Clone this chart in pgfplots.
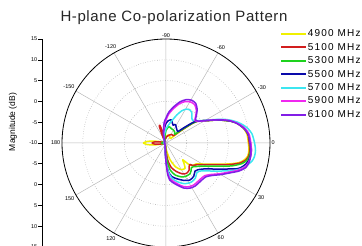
\documentclass[border=0pt]{standalone}
\usepackage{fontspec}
\setmainfont{Liberation Sans}
\newfontfamily\legfont[LetterSpace=12]{Liberation Sans}
\newfontfamily\titlefont[LetterSpace=4]{Liberation Sans}
\usepackage{pgfplots}
\pgfplotsset{compat=1.18}
\usepgfplotslibrary{polar}
\usepackage{pgfplotstable}

\definecolor{cY}{RGB}{240,240,0}
\definecolor{cR}{RGB}{210,30,30}
\definecolor{cG}{RGB}{30,210,30}
\definecolor{cB}{RGB}{10,10,170}
\definecolor{cC}{RGB}{60,230,240}
\definecolor{cM}{RGB}{240,40,240}
\definecolor{cP}{RGB}{130,30,230}

% angle (deg, clockwise from right as labelled) and magnitude (dB)
\pgfplotstableread{
a d
-180 -4.5
-175 -5.5
-170 -7.5
-165 -9.0
-150 -9.6
-120 -9.5
-100 -9.0
-90 -8.5
-75 -8.0
-60 -8.2
-45 -8.5
-40 -6.0
-37 -2.5
-35 -0.9
-31 0.4
-28 1.5
-25 3.0
-22 4.6
-19 6.2
-16 7.5
-13 8.4
-10 9.1
-6 9.6
0 9.8
5 10.0
9 9.9
12 9.3
15 8.2
18 6.2
20 4.8
25 2.0
30 0.1
35 -1.2
40 -1.6
43 -2.2
45 -4.3
48 -3.6
53 -2.4
60 -2.6
68 -3.8
76 -5.8
85 -8.0
95 -9.3
120 -9.6
150 -9.6
165 -9.0
170 -7.5
175 -5.5
180 -4.5
}\tY

\pgfplotstableread{
a d
-180 -6.6
-175 -7.2
-170 -8.5
-160 -9.5
-130 -9.5
-118 -8.5
-112 -5.8
-109 -5.5
-106 -7.5
-100 -9.0
-85 -8.5
-70 -8.0
-55 -7.5
-45 -7.5
-40 -5.5
-37 -2.5
-35 -0.9
-31 0.4
-28 1.5
-25 3.0
-22 4.6
-19 6.3
-16 7.6
-13 8.5
-10 9.2
-6 9.8
0 10.0
5 10.2
9 10.1
12 9.6
15 8.5
18 6.6
20 5.2
25 2.3
30 0.4
35 -0.9
40 -1.6
42 -2.3
46 -2.0
50 -1.4
56 -1.2
62 -1.6
70 -2.7
78 -4.0
84 -5.8
90 -8.0
100 -9.3
130 -9.6
160 -9.5
170 -8.5
175 -7.2
180 -6.6
}\tR

\pgfplotstableread{
a d
-180 -9.3
-170 -9.0
-150 -9.6
-120 -9.5
-100 -8.5
-90 -7.0
-80 -6.0
-70 -6.3
-60 -6.4
-52 -6.6
-45 -7.0
-40 -5.0
-37 -2.3
-35 -0.9
-31 0.4
-28 1.5
-25 3.0
-22 4.6
-19 6.3
-16 7.6
-13 8.5
-10 9.2
-6 9.9
0 10.2
5 10.4
9 10.3
12 9.9
15 9.0
18 7.4
20 6.2
25 3.1
30 1.1
35 -0.3
38 -0.8
41 -1.3
44 -1.5
48 -1.0
52 -0.6
60 -0.7
66 -1.1
74 -2.0
81 -3.4
86 -5.5
92 -8.0
100 -9.3
130 -9.6
160 -9.5
170 -9.0
180 -9.3
}\tG

\pgfplotstableread{
a d
-180 -9.5
-150 -9.6
-120 -9.3
-105 -8.0
-95 -6.3
-90 -5.3
-84 -4.6
-77 -4.3
-72 -5.0
-68 -5.4
-63 -5.0
-57 -5.5
-50 -5.9
-44 -6.0
-40 -4.0
-37 -1.6
-34 -0.6
-31 0.4
-28 1.6
-25 3.1
-22 4.7
-19 6.3
-16 7.6
-13 8.5
-10 9.3
-6 9.9
0 10.3
5 10.6
9 10.5
12 10.3
15 9.8
18 9.0
20 8.1
23 6.0
25 4.8
30 2.5
35 0.9
40 0.0
44 -0.3
50 0.4
57 0.6
65 -0.1
73 -1.0
80 -1.8
85 -3.0
89 -5.0
95 -7.8
105 -9.2
130 -9.6
180 -9.5
}\tB

\pgfplotstableread{
a d
-180 -9.5
-150 -9.5
-120 -9.1
-100 -7.8
-90 -6.6
-80 -5.3
-74 -4.2
-69 -2.8
-64 -1.4
-59 -0.5
-54 -0.2
-49 -0.5
-45 -1.2
-41 -1.6
-37 -1.0
-34 -0.4
-31 0.5
-28 1.8
-25 3.4
-22 5.2
-19 6.7
-16 8.0
-13 9.1
-10 10.0
-6 10.8
0 11.3
5 11.6
9 11.5
12 11.1
15 10.3
18 9.4
20 8.6
23 7.2
25 5.9
30 3.5
35 1.7
40 0.5
44 0.3
50 1.0
57 1.2
65 0.8
73 -0.2
80 -1.3
85 -2.8
89 -5.0
95 -7.8
105 -9.2
130 -9.5
180 -9.5
}\tC

\pgfplotstableread{
a d
-180 -9.6
-150 -9.6
-120 -9.3
-105 -7.8
-95 -5.6
-90 -4.5
-85 -3.1
-78 -1.6
-71 0.0
-65 1.0
-59 1.5
-53 1.5
-47 0.7
-42 -0.4
-38 -1.2
-34 -0.7
-31 0.3
-28 1.6
-25 3.2
-22 4.9
-19 6.4
-16 7.6
-13 8.6
-10 9.4
-6 10.1
0 10.4
5 10.6
9 10.6
13 10.4
17 9.8
21 8.4
25 6.6
30 4.8
35 3.2
40 2.2
45 2.0
50 2.0
56 2.1
62 1.9
68 1.3
72 0.6
78 -0.4
84 -1.5
87 -3.0
90 -5.8
95 -8.2
105 -9.3
130 -9.6
180 -9.6
}\tM

\pgfplotstableread{
a d
-180 -9.6
-150 -9.6
-120 -9.2
-105 -7.5
-95 -5.0
-90 -4.0
-85 -2.6
-78 -1.1
-71 0.5
-65 1.5
-59 2.0
-53 1.9
-47 1.0
-42 -0.2
-38 -1.0
-34 -0.6
-31 0.4
-28 1.6
-25 3.2
-22 4.8
-19 6.3
-16 7.5
-13 8.4
-10 9.2
-6 9.9
0 10.2
5 10.5
9 10.6
13 10.5
17 10.1
21 8.8
25 7.0
30 5.2
35 3.6
40 2.6
45 2.4
50 2.4
56 2.5
62 2.3
68 1.7
72 1.0
78 0.0
84 -1.0
87 -2.5
90 -5.5
95 -8.0
105 -9.3
130 -9.6
180 -9.6
}\tP

\begin{document}
\begin{tikzpicture}[x=1pt,y=1pt]
\useasboundingbox (0,0) rectangle (362,246);
\begin{polaraxis}[
  at={(166pt,103pt)}, anchor=center,
  scale only axis, width=208pt, height=208pt,
  ymin=0, ymax=25, ytick={5,10,15,20}, yticklabels={},
  xtick={0,30,...,330},
  xticklabels={0,-30,-60,-90,-120,-150,180,150,120,90,60,30},
  xmajorgrids, ymajorgrids,
  major x grid style={gray!55, line width=0.5pt},
  major y grid style={gray!85, dotted, line width=0.55pt},
  x axis line style={black, line width=0.8pt},
  y axis line style={draw=none},
  tick style={draw=none},
  xticklabel style={font=\fontsize{5.5}{6}\selectfont, inner sep=1.5pt},
  legend style={at={(1.048,1.05)}, anchor=north west, draw=none, fill=none,
    font=\legfont\fontsize{10}{10.5}\selectfont, row sep=3.4pt, inner sep=0pt,
    nodes={inner sep=0.8pt}},
  legend cell align=left,
  legend image code/.code={\draw[#1,line width=1.8pt] (0pt,0pt) -- (25pt,0pt);},
  every axis plot/.append style={line width=1.5pt, smooth, tension=0.4, line join=round},
]
\addplot[cY] table[x expr=-\thisrow{a}, y expr=\thisrow{d}+10]{\tY};
\addlegendentry{4900 MHz}
\addplot[cR] table[x expr=-\thisrow{a}, y expr=\thisrow{d}+10]{\tR};
\addlegendentry{5100 MHz}
\addplot[cG] table[x expr=-\thisrow{a}, y expr=\thisrow{d}+10]{\tG};
\addlegendentry{5300 MHz}
\addplot[cB] table[x expr=-\thisrow{a}, y expr=\thisrow{d}+10]{\tB};
\addlegendentry{5500 MHz}
\addplot[cC] table[x expr=-\thisrow{a}, y expr=\thisrow{d}+10]{\tC};
\addlegendentry{5700 MHz}
\addplot[cM] table[x expr=-\thisrow{a}, y expr=\thisrow{d}+10]{\tM};
\addlegendentry{5900 MHz}
\addplot[cP] table[x expr=-\thisrow{a}, y expr=\thisrow{d}+10]{\tP};
\addlegendentry{6100 MHz}
\end{polaraxis}
\begin{axis}[
  at={(42pt,-1pt)}, anchor=south west,
  scale only axis, width=20pt, height=208pt,
  xmin=0, xmax=1, ymin=-25, ymax=25,
  axis x line=none, axis y line*=left,
  y axis line style={-, line width=0.6pt},
  ytick={-25,-20,...,25},
  yticklabels={15,10,5,0,-5,-10,-5,0,5,10,15},
  tick align=outside, major tick length=3.5pt,
  tick style={line width=0.6pt, black},
  yticklabel style={font=\fontsize{5.5}{6}\selectfont, inner sep=1pt},
]
\end{axis}
\node[font=\titlefont\fontsize{15}{16}\selectfont, text=black!85] at (174,228.5) {H-plane Co-polarization Pattern};
\node[rotate=90, font=\fontsize{8.5}{9}\selectfont] at (13,124) {Magnitude (dB)};
\end{tikzpicture}
\end{document}
